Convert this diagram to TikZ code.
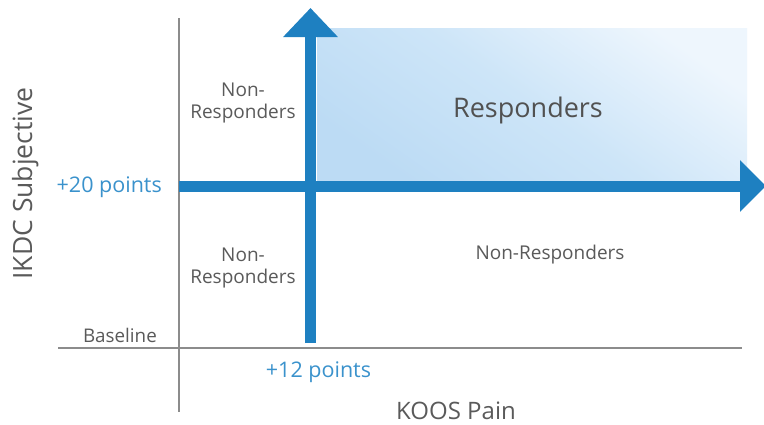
\documentclass[tikz,border=0pt]{standalone}
\usepackage{fontspec}
\setmainfont{Open Sans}
\usetikzlibrary{arrows.meta}
\definecolor{barblue}{HTML}{1E80C1}
\definecolor{labelblue}{HTML}{3A92CC}
\definecolor{axisgrey}{HTML}{8C8C8C}
\definecolor{textgrey}{HTML}{5A5A5A}
\definecolor{zonedark}{HTML}{BCDBF4}
\definecolor{zonemid}{HTML}{CDE5F8}
\definecolor{zonelight}{HTML}{EEF6FD}
\tikzset{
  axisline/.style={draw=axisgrey, line width=2pt},
  threshold/.style={draw=barblue, line width=11pt},
  groupnote/.style={text=textgrey, align=center, inner sep=0pt,
    font=\fontsize{19}{21.5}\selectfont},
  pointnote/.style={text=labelblue, inner sep=0pt, font=\fontsize{21.5}{24}\selectfont},
  axisname/.style={text=textgrey, inner sep=0pt, font=\fontsize{24}{28}\selectfont},
}
\begin{document}
\begin{tikzpicture}[x=1pt, y=-1pt]
  \useasboundingbox (0,0) rectangle (764,424);
  \fill[white] (0,0) rectangle (764,424);

  % responder zone above both thresholds
  \shade[top color=zonelight, bottom color=zonedark, middle color=zonemid,
         shading angle=-35]
    (317,28) rectangle (747,181);

  % baseline axes
  \coordinate (ytop) at (178.5,18);
  \coordinate (ybot) at (178.5,412);
  \coordinate (xleft) at (58,348);
  \coordinate (xright) at (742,348);
  \draw[axisline] (ytop) -- (ybot);
  \draw[axisline] (xleft) -- (xright);

  % threshold arrows
  \coordinate (kstart) at (310.5,343);
  \coordinate (kend) at (310.5,8);
  \coordinate (istart) at (179,186);
  \coordinate (iend) at (766,186);
  \draw[threshold, -{Triangle[length=29pt, width=53pt]}] (kstart) -- (kend);
  \draw[threshold, -{Triangle[length=26pt, width=50pt]}] (istart) -- (iend);

  % group labels
  \node[text=textgrey!90!black, inner sep=0pt, font=\fontsize{27}{30}\selectfont, anchor=base]
    (resp) at (528,117) {Responders};
  \node[groupnote] (nrtop) at (243,103) {Non-\\Responders};
  \node[groupnote] (nrlow) at (243,268) {Non-\\Responders};
  \node[groupnote, anchor=base] (nrright) at (550,259) {Non-Responders};

  % threshold values
  \node[pointnote, anchor=base east] (ikdcpts) at (162,192) {+20 points};
  \node[pointnote, anchor=base] (koospts) at (318.5,377) {+12 points};
  \node[text=textgrey, inner sep=0pt, font=\fontsize{18.8}{21}\selectfont, anchor=base east]
    (base) at (157,342) {Baseline};

  % axis names
  \node[axisname, anchor=base] (xname) at (456,419) {KOOS Pain};
  \node[axisname, rotate=90, anchor=base, font=\fontsize{26.5}{30}\selectfont]
    (yname) at (32,183.5) {IKDC Subjective};
\end{tikzpicture}
\end{document}
